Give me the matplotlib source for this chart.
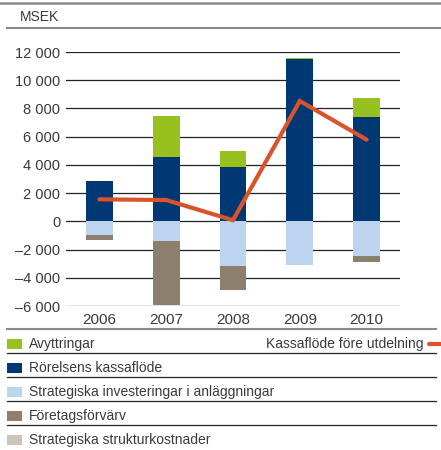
import numpy as np
import matplotlib
matplotlib.use('Agg')
import matplotlib.pyplot as plt
from matplotlib.patches import Rectangle
from matplotlib.lines import Line2D

plt.rcParams['font.family'] = ['Liberation Sans', 'DejaVu Sans']

# data (MSEK)
years = ['2006', '2007', '2008', '2009', '2010']
rorelsens = [2830, 4540, 3830, 11530, 7420]
avyttringar = [0, 2910, 1180, 70, 1350]
strat_inv = [-950, -1370, -3140, -3090, -2430]
forvarv = [-350, -4530, -1750, 0, -470]
struktur = [0, 0, 0, 0, 0]
kassaflode = [1560, 1510, 80, 8530, 5790]

yticks = [-6000, -4000, -2000, 0, 2000, 4000, 6000, 8000, 10000, 12000]

labels = ['Avyttringar', 'Rörelsens kassaflöde',
          'Strategiska investeringar i anläggningar', 'Företagsförvärv',
          'Strategiska strukturkostnader']
line_label = 'Kassaflöde före utdelning'

c_green = '#97c11f'
c_navy = '#003873'
c_lblue = '#bdd4ee'
c_brown = '#8c7f6d'
c_beige = '#cbc4ba'
c_orange = '#d9532b'
c_text = '#3a3a3a'

W, H = 441, 450
fig = plt.figure(figsize=(W / 100, H / 100), dpi=100)


def fx(px):
    return px / W


def fy(py):
    return 1 - py / H


ax = fig.add_axes([fx(66), fy(306), fx(400) - fx(66), fy(52) - fy(306)])
x = np.arange(len(years))
bw = 0.40

for t in yticks:
    ax.axhline(t, color='#222222', lw=0.9, zorder=1)

ax.bar(x, rorelsens, bw, color=c_navy, zorder=2)
ax.bar(x, avyttringar, bw, bottom=rorelsens, color=c_green, zorder=2)
ax.bar(x, strat_inv, bw, color=c_lblue, zorder=2)
ax.bar(x, forvarv, bw, bottom=strat_inv, color=c_brown, zorder=2)
bot = np.array(strat_inv) + np.array(forvarv)
ax.bar(x, struktur, bw, bottom=bot, color=c_beige, zorder=2)
ax.plot(x, kassaflode, color=c_orange, lw=3.0, solid_capstyle='round',
        solid_joinstyle='miter', zorder=3)

ax.set_xlim(-0.5, len(years) - 0.5)
ax.set_ylim(-6000, 12000)
ax.set_yticks(yticks)
ax.set_yticklabels([f'{t:,}'.replace(',', ' ').replace('-', '\u2013') for t in yticks])
ax.set_xticks(x)
ax.set_xticklabels(years)
ax.tick_params(length=0, colors=c_text)
ax.tick_params(axis='y', pad=4, labelsize=10.5)
ax.tick_params(axis='x', pad=5, labelsize=11)
for s in ax.spines.values():
    s.set_visible(False)

# header rules and unit
fig.add_artist(Line2D([0, 1], [fy(3), fy(3)], color='#8a8a8a', lw=1.8))
fig.add_artist(Line2D([fx(7), 1], [fy(28), fy(28)], color='#8a8a8a', lw=1.5))
fig.text(fx(20), fy(17), 'MSEK', fontsize=10, color=c_text, va='center')

# legend rows
fig.add_artist(Line2D([fx(7), fx(436)], [fy(329), fy(329)], color='#8a8a8a', lw=1.5))
colors = [c_green, c_navy, c_lblue, c_brown, c_beige]
for i, (lab, col) in enumerate(zip(labels, colors)):
    yc = 344 + i * 24
    fig.add_artist(Rectangle((fx(7), fy(yc + 5)), fx(15), fy(yc - 5) - fy(yc + 5),
                             color=col, lw=0))
    fig.text(fx(29), fy(yc), lab, fontsize=10, color=c_text, va='center')
    if i < len(labels) - 1:
        ly = yc + 9
        fig.add_artist(Line2D([fx(7), fx(436)], [fy(ly), fy(ly)], color='#222222', lw=0.9))

fig.text(fx(423), fy(344), line_label, fontsize=10, color=c_text, va='center', ha='right')
fig.add_artist(Line2D([fx(429), fx(441)], [fy(344), fy(344)], color=c_orange, lw=3,
                      solid_capstyle='round'))

fig.savefig('out.png', dpi=100)
